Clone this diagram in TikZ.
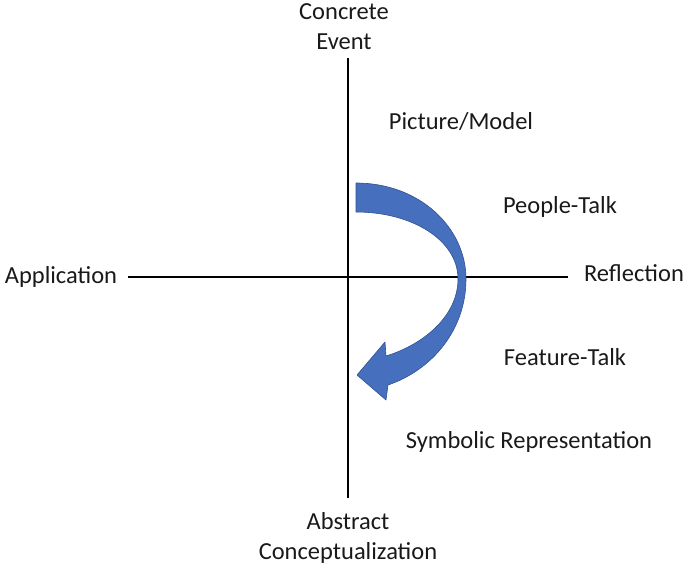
\documentclass[tikz,border=0pt]{standalone}
\usepackage{fontspec}
\setmainfont{Carlito}
\begin{document}
\begin{tikzpicture}[x=1pt,y=-1pt,
  lbl/.style={font=\fontsize{24.5}{30}\selectfont, text=black!90, inner sep=0pt, align=center},
  axis/.style={line width=2.8pt, black}]
\useasboundingbox (0,0) rectangle (685,566);
\node[lbl] (ce) at (344,27) {Concrete\\Event};
\node[lbl] (ac) at (348,538) {Abstract\\Conceptualization};
\node[lbl] (app) at (61,277) {Application};
\node[lbl] (ref) at (634,273) {Reflection};
\node[lbl] (pm) at (461,122) {Picture/Model};
\node[lbl] (pt) at (560,207) {People-Talk};
\node[lbl] (ft) at (565,357) {Feature-Talk};
\node[lbl] (sr) at (529,442) {Symbolic Representation};
\coordinate (vt) at (348,58);
\coordinate (vb) at (348,498);
\coordinate (hl) at (128,277);
\coordinate (hr) at (568,277);
\draw[axis] (vt) -- (vb);
\draw[axis] (hl) -- (hr);
\fill[fill={rgb,255:red,70;green,112;blue,190}, draw={rgb,255:red,47;green,82;blue,143}, line width=0.6pt, line join=round]
  (356,183) .. controls (420,183) and (466,228) .. (466,279)
  .. controls (466,330) and (432,370) .. (388,385)
  -- (386,400) -- (357,375) -- (385,342) -- (386,356)
  .. controls (425,344) and (458,315) .. (458,279)
  .. controls (458,240) and (412,212) .. (356,212) -- cycle;
\end{tikzpicture}
\end{document}
